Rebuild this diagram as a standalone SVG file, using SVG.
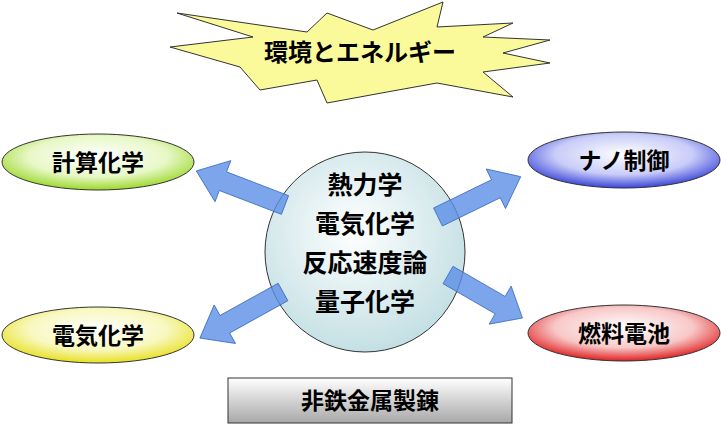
<svg xmlns="http://www.w3.org/2000/svg" width="722" height="427" viewBox="0 0 722 427">
<defs>
<radialGradient id="gc" cx="0.45" cy="0.4" r="0.6"><stop offset="0" stop-color="#ffffff"/><stop offset="1" stop-color="#c4e0e4"/></radialGradient>
<radialGradient id="gg" cx="0.5" cy="0.4" r="0.6"><stop offset="0" stop-color="#ffffff"/><stop offset="0.6" stop-color="#e8f8c8"/><stop offset="1" stop-color="#9cd82c"/></radialGradient>
<radialGradient id="gb" cx="0.5" cy="0.4" r="0.6"><stop offset="0" stop-color="#ffffff"/><stop offset="0.6" stop-color="#c8ccf8"/><stop offset="1" stop-color="#3a44d8"/></radialGradient>
<radialGradient id="gy" cx="0.5" cy="0.4" r="0.6"><stop offset="0" stop-color="#ffffff"/><stop offset="0.6" stop-color="#f8f8c0"/><stop offset="1" stop-color="#e8e020"/></radialGradient>
<radialGradient id="gr" cx="0.5" cy="0.4" r="0.6"><stop offset="0" stop-color="#ffffff"/><stop offset="0.6" stop-color="#f8c8c8"/><stop offset="1" stop-color="#e02020"/></radialGradient>
<linearGradient id="gx" x1="0" y1="0" x2="0" y2="1"><stop offset="0" stop-color="#ffffff"/><stop offset="1" stop-color="#a8a8a8"/></linearGradient>
<polygon id="arr" points="0,-10 70,-10 70,-22 100,0 70,22 70,10 0,10"/>
</defs>
<style>
text{font-family:"Noto Sans CJK JP",sans-serif;font-weight:bold;fill:#000;text-anchor:middle}
.n{stroke:#333;stroke-width:1}
.a{fill:#5b8ee6;fill-opacity:0.8;stroke:#3a6ac0;stroke-width:0.8}
</style>
<rect width="722" height="427" fill="#fff"/>
<g id="star"><polygon class="n" fill="#fafa9a" points="177,13 307,32 327,13 373,30 443,2 437,27 513,23 483,37 550,40 503,53 550,63 483,72 513,97 437,83 387,92 327,103 317,80 260,90 240,67 170,47 253,37"/><text x="360" y="61" font-size="24">環境とエネルギー</text></g>
<g id="center"><circle class="n" cx="365" cy="252" r="100" fill="url(#gc)"/>
<text x="365" y="194" font-size="25">熱力学</text><text x="365" y="233" font-size="25">電気化学</text><text x="365" y="272" font-size="25">反応速度論</text><text x="365" y="311" font-size="25">量子化学</text></g>
<g id="n1"><ellipse class="n" cx="98" cy="162" rx="96" ry="28" fill="url(#gg)"/><text x="98" y="171" font-size="23">計算化学</text></g>
<g id="n2"><ellipse class="n" cx="624" cy="160" rx="96" ry="28" fill="url(#gb)"/><text x="624" y="169" font-size="23">ナノ制御</text></g>
<g id="n3"><ellipse class="n" cx="98" cy="335" rx="96" ry="28" fill="url(#gy)"/><text x="98" y="344" font-size="23">電気化学</text></g>
<g id="n4"><ellipse class="n" cx="624" cy="333" rx="96" ry="28" fill="url(#gr)"/><text x="624" y="342" font-size="23">燃料電池</text></g>
<g id="n5"><rect class="n" x="228" y="378" width="284" height="45" fill="url(#gx)"/><text x="370" y="409" font-size="23">非鉄金属製錬</text></g>
<g id="connectors">
<use href="#arr" class="a" transform="translate(285,205) rotate(201) scale(0.95,1)"/>
<use href="#arr" class="a" transform="translate(438,217) rotate(-26) scale(0.92,1)"/>
<use href="#arr" class="a" transform="translate(448,275) rotate(30) scale(0.86,1)"/>
<use href="#arr" class="a" transform="translate(283,292) rotate(151) scale(0.95,1)"/>
</g>
</svg>
